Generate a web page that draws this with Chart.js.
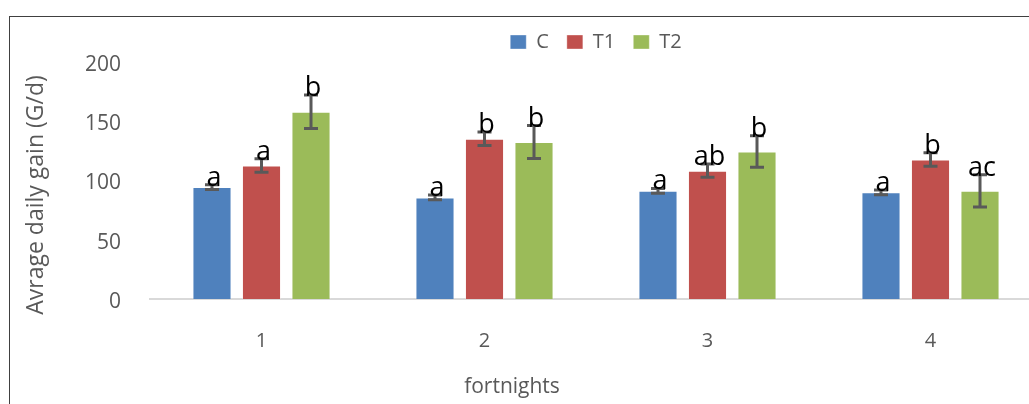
<!DOCTYPE html>
<html>
<head>
<meta charset="utf-8">
<script src="https://cdn.jsdelivr.net/npm/chart.js@4.4.1/dist/chart.umd.min.js"></script>
<style>
  html, body { margin: 0; padding: 0; background: #fff; overflow: hidden; }
  body { width: 1029px; height: 404px; position: relative; }
  .frame {
    position: absolute; left: 9px; top: 16px; width: 1100px; height: 500px;
    border-left: 1.5px solid #404040; border-top: 1.5px solid #404040;
  }
  .wrap { position: absolute; left: 0; top: 0; width: 1060px; height: 404px; }
</style>
</head>
<body>
<div class="frame"></div>
<div class="wrap"><canvas id="chart"></canvas></div>
<script>
// Data
const fortnights = ['1', '2', '3', '4'];
const valuesC = [94.5, 85.7, 91.3, 90];
const valuesT1 = [112.6, 135.3, 108.3, 117.7];
const valuesT2 = [158, 132.5, 124.5, 91.3];
const errC = [2, 2, 2, 2];
const errT1 = [5.7, 5.7, 5.6, 5.7];
const errT2 = [14.2, 13.9, 13.3, 13.6];
const lettersC = ['a', 'a', 'a', 'a'];
const lettersT1 = ['a', 'b', 'ab', 'b'];
const lettersT2 = ['b', 'b', 'b', 'ac'];
const yTicks = [0, 50, 100, 150, 200];

const FONT = "'Open Sans', 'DejaVu Sans', sans-serif";
const GREY = '#595959';

// Error bars + significance letters, drawn from the bar elements
const barExtras = {
  id: 'barExtras',
  afterDatasetsDraw(chart) {
    const ctx = chart.ctx;
    const yScale = chart.scales.y;
    chart.data.datasets.forEach((ds, i) => {
      const meta = chart.getDatasetMeta(i);
      meta.data.forEach((bar, j) => {
        const v = ds.data[j];
        const e = ds.errors[j];
        const yHi = yScale.getPixelForValue(v + e);
        const yLo = yScale.getPixelForValue(v - e);
        ctx.save();
        ctx.strokeStyle = GREY;
        ctx.lineWidth = 3;
        ctx.beginPath();
        ctx.moveTo(bar.x, yHi);
        ctx.lineTo(bar.x, yLo);
        ctx.moveTo(bar.x - 7, yHi);
        ctx.lineTo(bar.x + 7, yHi);
        ctx.moveTo(bar.x - 7, yLo);
        ctx.lineTo(bar.x + 7, yLo);
        ctx.stroke();

        // letter sits on top of the error bar
        ctx.fillStyle = '#000';
        ctx.font = '27px ' + FONT;
        ctx.textAlign = 'center';
        ctx.textBaseline = 'alphabetic';
        ctx.fillText(ds.letters[j], bar.x + 2, yHi + 1);
        ctx.restore();
      });
    });
  }
};

// Axis titles
const axisTitles = {
  id: 'axisTitles',
  afterDraw(chart) {
    const ctx = chart.ctx;
    ctx.save();
    ctx.fillStyle = GREY;
    ctx.textAlign = 'center';
    ctx.textBaseline = 'middle';
    ctx.font = '21px ' + FONT;
    ctx.fillText('fortnights', 512, 387);
    ctx.font = '23px ' + FONT;
    ctx.translate(36, 195);
    ctx.rotate(-Math.PI / 2);
    ctx.fillText('Avrage daily gain (G/d)', 0, 0);
    ctx.restore();
  }
};

const ctx = document.getElementById('chart').getContext('2d');
const chart = new Chart(ctx, {
  type: 'bar',
  data: {
    labels: fortnights,
    datasets: [
      { label: 'C', data: valuesC, errors: errC, letters: lettersC,
        backgroundColor: '#4F81BD', borderColor: 'rgba(255,255,255,0.35)', borderWidth: 1 },
      { label: 'T1', data: valuesT1, errors: errT1, letters: lettersT1,
        backgroundColor: '#C0504D', borderColor: 'rgba(255,255,255,0.35)', borderWidth: 1 },
      { label: 'T2', data: valuesT2, errors: errT2, letters: lettersT2,
        backgroundColor: '#9BBB59', borderColor: 'rgba(255,255,255,0.35)', borderWidth: 1 }
    ]
  },
  options: {
    responsive: true,
    maintainAspectRatio: false,
    animation: false,
    devicePixelRatio: 1,
    categoryPercentage: 0.666,
    barPercentage: 0.79,
    layout: { padding: { top: 14, left: 0, right: 18, bottom: 0 } },
    plugins: {
      legend: {
        position: 'top',
        fullSize: false,
        labels: {
          boxWidth: 16,
          boxHeight: 14,
          padding: 18,
          color: GREY,
          font: { family: FONT, size: 20 }
        }
      },
      tooltip: { enabled: false }
    },
    scales: {
      x: {
        afterFit: (s) => { s.height = 105; },
        grid: { display: false, drawTicks: false },
        border: { display: true, color: '#d9d9d9', width: 2 },
        ticks: { color: GREY, padding: 30, font: { family: FONT, size: 20 } }
      },
      y: {
        min: 0,
        max: 200,
        afterFit: (s) => { s.width = 150; },
        afterBuildTicks: (s) => { s.ticks = yTicks.map((v) => ({ value: v })); },
        grid: { display: false, drawTicks: false },
        border: { display: false },
        ticks: { color: GREY, padding: 29, labelOffset: 3, font: { family: FONT, size: 21 } }
      }
    }
  },
  plugins: [barExtras, axisTitles]
});
</script>
</body>
</html>
